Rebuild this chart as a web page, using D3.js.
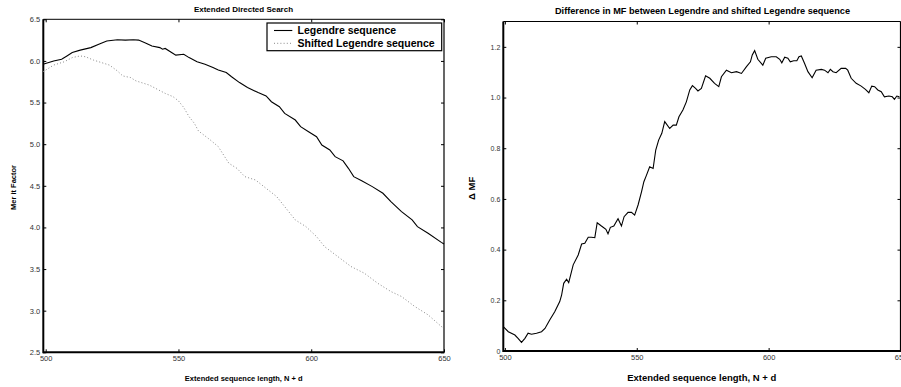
<!DOCTYPE html>
<html><head><meta charset="utf-8">
<script src="https://cdn.jsdelivr.net/npm/d3@7/dist/d3.min.js"></script>
<style>
html,body{margin:0;padding:0;background:#fff;}
svg{display:block;font-family:"Liberation Sans",Arial,Helvetica,sans-serif;}
</style></head>
<body>
<svg id="c" width="901" height="387"></svg>
<script>
// ---------- data ----------
const legendreN  = [499,503,506,508,510,513,517,520,523,527,530,533,535,538,540,543,544,545,548,549,552,554,557,560,563,565,568,570,573,576,580,583,585,588,590,594,596,599,602,604,607,609,612,614,616,619,623,627,630,634,638,640,644,649,650];
const legendreMF = [5.96,6.00,6.02,6.06,6.10,6.13,6.16,6.20,6.24,6.255,6.25,6.255,6.25,6.21,6.18,6.16,6.14,6.15,6.09,6.07,6.08,6.04,5.99,5.96,5.92,5.89,5.86,5.81,5.74,5.68,5.62,5.58,5.51,5.45,5.37,5.29,5.21,5.15,5.09,4.99,4.93,4.85,4.80,4.71,4.61,4.56,4.49,4.41,4.31,4.19,4.09,4.01,3.93,3.82,3.80];
const shiftedN   = [499,503,507,510,513,515,518,521,524,527,529,532,534,537,539,542,545,548,550,552,554,556,557.5,562,565,569,572,575,579,583,587,590,594,598,602,605,610,615,620,625,630,634,639,644,649,650];
const shiftedMF  = [5.87,5.95,5.99,6.04,6.06,6.05,6.01,5.98,5.95,5.88,5.82,5.80,5.76,5.73,5.71,5.66,5.61,5.57,5.52,5.44,5.33,5.25,5.16,5.05,4.97,4.77,4.71,4.61,4.57,4.47,4.37,4.25,4.09,4.01,3.89,3.77,3.65,3.53,3.45,3.33,3.23,3.17,3.05,2.95,2.81,2.79];

const diffN  = [499.4,501.3,503.8,505,506.3,507.6,508.8,510.1,512,513.9,515.2,517,518.9,520.8,521.5,522.3,523.4,524.2,525.9,527.8,529.1,530.3,531.6,532.8,534.1,535,536.6,538.3,539.1,540,541.3,542.9,544.2,545.2,546.7,548,549.2,550.5,551.8,552.7,553.7,554.9,556.2,557.2,558.3,559.5,560.6,562.5,563.8,565,566,567.5,568.8,570.1,571.1,572.3,573.2,574.5,576.1,577.7,579.5,581.1,582.1,584,585.9,587.8,589.7,591.6,593.1,593.8,594.7,595.9,597.8,598.9,601,602.9,604.2,605,606.1,607.3,608.2,609.5,610.7,611.5,612.4,613.6,614.9,616.5,618,620,621.2,622.5,623.4,624.4,625.6,627.5,629.2,630,631.3,633.2,635.1,636.7,638,639.1,640.2,641.4,642.7,643.9,645.6,646.9,647.7,648.6,649.6];
const diffMF = [0.096,0.076,0.063,0.050,0.034,0.050,0.070,0.066,0.070,0.076,0.089,0.122,0.155,0.195,0.22,0.267,0.283,0.27,0.34,0.379,0.422,0.425,0.449,0.449,0.447,0.506,0.493,0.48,0.462,0.488,0.493,0.522,0.493,0.53,0.547,0.547,0.536,0.576,0.628,0.668,0.694,0.727,0.72,0.793,0.832,0.859,0.905,0.878,0.891,0.891,0.924,0.951,0.983,1.03,1.047,1.036,1.026,1.036,1.086,1.076,1.056,1.043,1.082,1.108,1.098,1.102,1.095,1.122,1.141,1.168,1.185,1.151,1.128,1.155,1.161,1.161,1.151,1.137,1.159,1.155,1.141,1.145,1.145,1.161,1.164,1.135,1.102,1.078,1.108,1.111,1.108,1.098,1.111,1.102,1.098,1.115,1.115,1.108,1.076,1.056,1.045,1.032,1.019,1.045,1.043,1.03,1.023,1.003,1.006,1.003,0.993,1.006,1.003];

const xTicks = [500,550,600,650];
const leftYTicks = [2.5,3.0,3.5,4.0,4.5,5.0,5.5,6.0,6.5];
const rightYTicks = [0,0.2,0.4,0.6,0.8,1.0,1.2];

const leftTitle = "Extended Directed Search";
const rightTitle = "Difference in MF between Legendre and shifted Legendre sequence";
const xLabel = "Extended sequence length, N + d";
const leftYLabel = "Mer it Factor";
const rightYLabel = "\u0394 MF";
const legendLabels = ["Legendre sequence","Shifted Legendre sequence"];

// ---------- drawing ----------
const svg = d3.select("#c");

function panel(cfg){
  const g = svg.append("g");
  const x = d3.scaleLinear().domain(cfg.xDomain).range([cfg.L, cfg.R]);
  const y = d3.scaleLinear().domain(cfg.yDomain).range([cfg.B, cfg.T]);
  const tickFmtY = cfg.yFmt;
  // axes (ticks inward)
  const ax = [
    g.append("g").attr("transform",`translate(0,${cfg.B})`).call(d3.axisBottom(x).tickValues(xTicks).tickSize(-3).tickPadding(3.5).tickFormat(d3.format("d"))),
    g.append("g").attr("transform",`translate(0,${cfg.T})`).call(d3.axisTop(x).tickValues(xTicks).tickSize(-3).tickFormat("")),
    g.append("g").attr("transform",`translate(${cfg.L},0)`).call(d3.axisLeft(y).tickValues(cfg.yTicks).tickSize(-3).tickPadding(3).tickFormat(tickFmtY)),
    g.append("g").attr("transform",`translate(${cfg.R},0)`).call(d3.axisRight(y).tickValues(cfg.yTicks).tickSize(-3).tickFormat(""))
  ];
  ax.forEach(a=>{
    a.select(".domain").remove();
    a.selectAll("line").attr("stroke","#000").attr("stroke-width",1);
    a.selectAll("text").attr("fill","#333").attr("font-size",cfg.tickFont).attr("font-family","Liberation Sans, Arial, sans-serif");
  });
  ax[0].selectAll("text").attr("font-size",cfg.xTickFont);
  // box
  g.append("line").attr("x1",cfg.L).attr("x2",cfg.R).attr("y1",cfg.T).attr("y2",cfg.T).attr("stroke","#000").attr("stroke-width",1);
  g.append("line").attr("x1",cfg.R).attr("x2",cfg.R).attr("y1",cfg.T).attr("y2",cfg.B).attr("stroke","#000").attr("stroke-width",1.2);
  g.append("line").attr("x1",cfg.L).attr("x2",cfg.R+0.5).attr("y1",cfg.B).attr("y2",cfg.B).attr("stroke","#000").attr("stroke-width",2);
  g.append("line").attr("x1",cfg.L).attr("x2",cfg.L).attr("y1",cfg.T).attr("y2",cfg.B+1).attr("stroke","#000").attr("stroke-width",2);
  return {g,x,y};
}

// Left panel
const P1 = panel({L:43.3,R:444,T:19.3,B:352.3,xDomain:[499.1,650],yDomain:[2.5,6.5],yTicks:leftYTicks,yFmt:d3.format(".1f"),tickFont:"7.5px",xTickFont:"7.5px"});
const line1 = d3.line().x((d,i)=>P1.x(legendreN[i])).y(d=>P1.y(d));
P1.g.append("path").datum(legendreMF).attr("d",line1).attr("fill","none").attr("stroke","#000").attr("stroke-width",1.1);
const line1b = d3.line().x((d,i)=>P1.x(shiftedN[i])).y(d=>P1.y(d));
P1.g.append("path").datum(shiftedMF).attr("d",line1b).attr("fill","none").attr("stroke","#888").attr("stroke-width",1).attr("stroke-dasharray","1,2.2");

P1.g.append("text").attr("x",243.5).attr("y",12).attr("text-anchor","middle").attr("font-weight","bold").attr("font-size","8px").text(leftTitle);
P1.g.append("text").attr("x",243.7).attr("y",381).attr("text-anchor","middle").attr("font-weight","bold").attr("font-size","7.5px").text(xLabel);
P1.g.append("text").attr("transform","translate(16,187.5) rotate(-90)").attr("text-anchor","middle").attr("font-weight","bold").attr("font-size","7.5px").text(leftYLabel);

// legend
const lg = P1.g.append("g");
lg.append("rect").attr("x",267).attr("y",23).attr("width",174.7).attr("height",27.7).attr("fill","#fff").attr("stroke","#000").attr("stroke-width",1.2);
lg.append("line").attr("x1",274).attr("x2",292.3).attr("y1",30.5).attr("y2",30.5).attr("stroke","#000").attr("stroke-width",1.1);
lg.append("line").attr("x1",274).attr("x2",292.3).attr("y1",43.3).attr("y2",43.3).attr("stroke","#888").attr("stroke-width",1).attr("stroke-dasharray","1,2.2");
legendLabels.forEach((t,i)=>{
  lg.append("text").attr("x",297.5).attr("y",34.3+i*12.8).attr("font-weight","bold").attr("font-size","10.5px").text(t);
});

// Right panel
const P2 = panel({L:503.3,R:900.5,T:21.5,B:351,xDomain:[499.4,650],yDomain:[0,1.3],yTicks:rightYTicks,yFmt:d=>d===0?"0":d3.format(".1f")(d),tickFont:"7px",xTickFont:"7.5px"});
const line2 = d3.line().x((d,i)=>P2.x(diffN[i])).y(d=>P2.y(d));
P2.g.append("path").datum(diffMF).attr("d",line2).attr("fill","none").attr("stroke","#000").attr("stroke-width",1.1);
P2.g.append("text").attr("x",702.5).attr("y",14).attr("text-anchor","middle").attr("font-weight","bold").attr("font-size","9.2px").text(rightTitle);
P2.g.append("text").attr("x",701.7).attr("y",380.5).attr("text-anchor","middle").attr("font-weight","bold").attr("font-size","9.5px").text(xLabel);
P2.g.append("text").attr("transform","translate(475,188.3) rotate(-90)").attr("text-anchor","middle").attr("font-weight","bold").attr("font-size","9.5px").text(rightYLabel);
</script>
</body></html>
